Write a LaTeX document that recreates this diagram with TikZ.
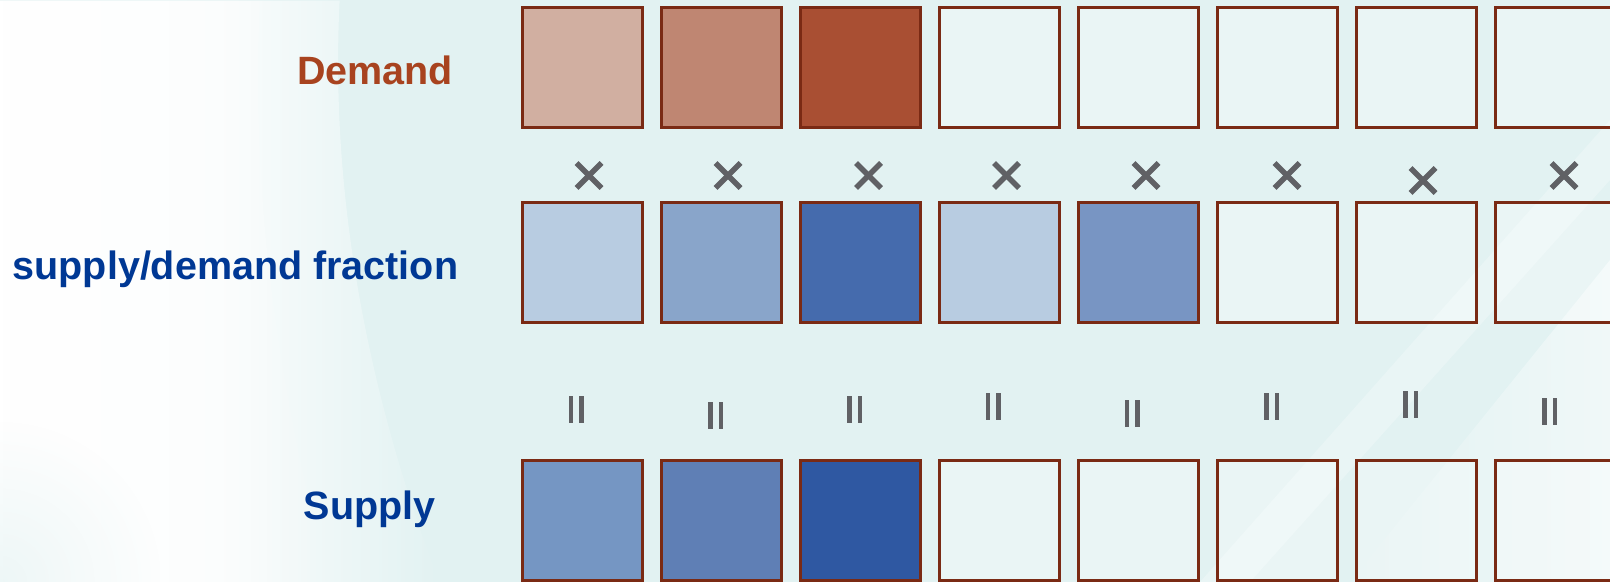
\documentclass[tikz,border=0pt]{standalone}
\usepackage{fontspec}
\setmainfont{Liberation Sans}
\usetikzlibrary{fadings}
\definecolor{bgc}{RGB}{226,242,242}
\definecolor{cellbr}{RGB}{122,42,20}
\definecolor{markc}{RGB}{96,97,101}
\definecolor{demc}{RGB}{168,67,31}
\definecolor{bluec}{RGB}{0,56,148}
\definecolor{dA}{RGB}{209,175,161}
\definecolor{dB}{RGB}{191,134,114}
\definecolor{dC}{RGB}{169,79,51}
\definecolor{fA}{RGB}{184,204,225}
\definecolor{fB}{RGB}{137,165,202}
\definecolor{fC}{RGB}{69,107,173}
\definecolor{fD}{RGB}{120,149,195}
\definecolor{sA}{RGB}{117,150,195}
\definecolor{sB}{RGB}{95,127,181}
\definecolor{sC}{RGB}{47,88,162}
\tikzfading[name=fadeW, left color=transparent!0, right color=transparent!100, middle color=transparent!15]
\tikzfading[name=fadeL, left color=transparent!100, right color=transparent!0]
\tikzfading[name=softc, inner color=transparent!0, outer color=transparent!100]
\tikzset{
  cell/.style={draw=cellbr, line width=3bp, minimum width=120bp, minimum height=120bp, inner sep=0pt},
  empty/.style={fill=white, fill opacity=0.3},
  lab/.style={font=\fontsize{39.5bp}{46bp}\selectfont\bfseries, inner sep=0pt, anchor=base west},
  timesmark/.style={draw=markc, line width=5.5bp, line cap=butt},
  eqmark/.style={fill=markc},
}
\newcommand{\timesat}[1]{\draw[timesmark] ([shift={(-12.5,-12.5)}]#1) -- ([shift={(12.5,12.5)}]#1); \draw[timesmark] ([shift={(-12.5,12.5)}]#1) -- ([shift={(12.5,-12.5)}]#1);}
\newcommand{\eqat}[1]{\fill[eqmark] ([shift={(-7.5,-13.5)}]#1) rectangle ([shift={(-3,13.5)}]#1); \fill[eqmark] ([shift={(3,-13.5)}]#1) rectangle ([shift={(7.5,13.5)}]#1);}
\begin{document}
\begin{tikzpicture}[x=1bp,y=-1bp]
\useasboundingbox (0,0) rectangle (1610,582);
% background
\fill[bgc] (0,0) rectangle (1610,582);
\fill[white, path fading=fadeW] (0,0) -- (340,0) .. controls (330,200) and (370,400) .. (440,582) -- (0,582) -- cycle;
\fill[white, opacity=0.6, path fading=fadeW] (0,0) -- (260,0) .. controls (250,200) and (280,400) .. (330,582) -- (0,582) -- cycle;
\fill[bgc, opacity=0.6, path fading=softc] (-160,422) rectangle (160,742);
\fill[white, opacity=0.5, path fading=fadeL] (1350,582) -- (1610,260) -- (1610,582) -- cycle;
\fill[white, opacity=0.25] (1250,582) -- (1610,180) -- (1610,120) -- (1200,582) -- cycle;

% labels
\node[lab, text=demc] (tdem) at (297,84.5) {Demand};
\node[lab, text=bluec] (tfrac) at (12.5,279) {supply/demand fraction};
\node[lab, text=bluec] (tsup) at (303.5,519.5) {Supply};

% demand row
\node[cell, fill=dA] (d1) at (582.5,67.5) {};
\node[cell, fill=dB] (d2) at (721.5,67.5) {};
\node[cell, fill=dC] (d3) at (860.5,67.5) {};
\node[cell, empty] (d4) at (999.5,67.5) {};
\node[cell, empty] (d5) at (1138.5,67.5) {};
\node[cell, empty] (d6) at (1277.5,67.5) {};
\node[cell, empty] (d7) at (1416.5,67.5) {};
\node[cell, empty] (d8) at (1555.5,67.5) {};
% fraction row
\node[cell, fill=fA] (f1) at (582.5,262.5) {};
\node[cell, fill=fB] (f2) at (721.5,262.5) {};
\node[cell, fill=fC] (f3) at (860.5,262.5) {};
\node[cell, fill=fA] (f4) at (999.5,262.5) {};
\node[cell, fill=fD] (f5) at (1138.5,262.5) {};
\node[cell, empty] (f6) at (1277.5,262.5) {};
\node[cell, empty] (f7) at (1416.5,262.5) {};
\node[cell, empty] (f8) at (1555.5,262.5) {};
% supply row
\node[cell, fill=sA] (s1) at (582.5,520.5) {};
\node[cell, fill=sB] (s2) at (721.5,520.5) {};
\node[cell, fill=sC] (s3) at (860.5,520.5) {};
\node[cell, empty] (s4) at (999.5,520.5) {};
\node[cell, empty] (s5) at (1138.5,520.5) {};
\node[cell, empty] (s6) at (1277.5,520.5) {};
\node[cell, empty] (s7) at (1416.5,520.5) {};
\node[cell, empty] (s8) at (1555.5,520.5) {};

% multiplication marks
\coordinate (x1) at (589,175.5);
\coordinate (x2) at (728,175.5);
\coordinate (x3) at (868.5,175.5);
\coordinate (x4) at (1006.5,175.5);
\coordinate (x5) at (1146,175.5);
\coordinate (x6) at (1287,175.5);
\coordinate (x7) at (1423,180.5);
\coordinate (x8) at (1564,175.5);
\foreach \k in {1,...,8} {\timesat{x\k}}

% equals marks (rotated)
\coordinate (e1) at (576,409);
\coordinate (e2) at (715.5,415);
\coordinate (e3) at (854.5,409);
\coordinate (e4) at (993,406);
\coordinate (e5) at (1132,413);
\coordinate (e6) at (1271.5,406);
\coordinate (e7) at (1410.5,404);
\coordinate (e8) at (1549.5,411);
\foreach \k in {1,...,8} {\eqat{e\k}}
\end{tikzpicture}
\end{document}
